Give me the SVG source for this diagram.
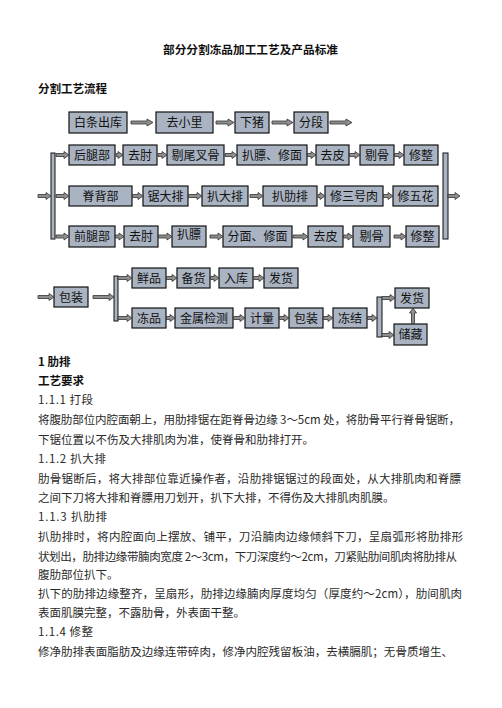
<svg xmlns="http://www.w3.org/2000/svg" width="502" height="708" viewBox="0 0 502 708">
<style>
.bg{fill:#ffffff}
.box rect{fill:#a9b3c1;stroke:#111;stroke-width:1.2}
.box text{font-family:"Noto Sans CJK SC","Noto Sans CJK JP",sans-serif;font-size:12px;fill:#111;text-anchor:middle}
.bar{fill:#a9b3c1;stroke:#111;stroke-width:1}
.arr polygon{fill:#8e8e8e;stroke:#333;stroke-width:0.8;stroke-linejoin:miter}
.h{font-family:"Noto Sans CJK SC","Noto Sans CJK JP",sans-serif;font-weight:bold;font-size:11.5px;fill:#111}
.t{font-family:"Noto Sans CJK SC","Noto Sans CJK JP",sans-serif;font-size:11.5px;fill:#2a2a2a}
</style>
<rect class="bg" x="0" y="0" width="502" height="708"/>

<text class="h" x="250.5" y="54" text-anchor="middle" textLength="175" lengthAdjust="spacingAndGlyphs">部分分割冻品加工工艺及产品标准</text>
<text class="h" x="38" y="93">分割工艺流程</text>

<!-- Row 0 -->
<g id="n-baitiao" class="box"><rect x="69" y="112" width="58" height="21"/><text x="98" y="127">白条出库</text></g>
<g id="n-quxiaoli" class="box"><rect x="156" y="112" width="57" height="21"/><text x="184.5" y="127">去小里</text></g>
<g id="n-xiazhu" class="box"><rect x="235" y="112" width="34" height="21"/><text x="252" y="127">下猪</text></g>
<g id="n-fenduan" class="box"><rect x="294" y="112" width="34" height="21"/><text x="311" y="127">分段</text></g>

<!-- Row 1 -->
<g id="n-houtuibu" class="box"><rect x="69" y="145" width="46" height="20"/><text x="92" y="159.5">后腿部</text></g>
<g id="n-quzhou1" class="box"><rect x="123" y="145" width="34" height="20"/><text x="140" y="159.5">去肘</text></g>
<g id="n-tiweichagu" class="box"><rect x="167" y="145" width="57" height="20"/><text x="195.5" y="159.5">剔尾叉骨</text></g>
<g id="n-babiao1" class="box"><rect x="237" y="145" width="70" height="20"/><text x="272" y="159.5">扒膘、修面</text></g>
<g id="n-qupi1" class="box"><rect x="316" y="145" width="33" height="20"/><text x="332.5" y="159.5">去皮</text></g>
<g id="n-tigu1" class="box"><rect x="360" y="145" width="34" height="20"/><text x="377" y="159.5">剔骨</text></g>
<g id="n-xiuzheng1" class="box"><rect x="404" y="145" width="34" height="20"/><text x="421" y="159.5">修整</text></g>

<!-- Row 2 -->
<g id="n-jibeibu" class="box"><rect x="69" y="186" width="63" height="20"/><text x="100.5" y="200.5">脊背部</text></g>
<g id="n-judapai" class="box"><rect x="143" y="186" width="45" height="20"/><text x="165.5" y="200.5">锯大排</text></g>
<g id="n-badapai" class="box"><rect x="202" y="186" width="46" height="20"/><text x="225" y="200.5">扒大排</text></g>
<g id="n-baleipai" class="box"><rect x="263" y="186" width="54" height="20"/><text x="290" y="200.5">扒肋排</text></g>
<g id="n-xiusanhao" class="box"><rect x="325" y="186" width="58" height="20"/><text x="354" y="200.5">修三号肉</text></g>
<g id="n-xiuwuhua" class="box"><rect x="393" y="186" width="45" height="20"/><text x="415.5" y="200.5">修五花</text></g>

<!-- Row 3 -->
<g id="n-qiantuibu" class="box"><rect x="69" y="226" width="46" height="21"/><text x="92" y="241">前腿部</text></g>
<g id="n-quzhou3" class="box"><rect x="124" y="226" width="34" height="21"/><text x="141" y="241">去肘</text></g>
<g id="n-babiao3" class="box"><rect x="172" y="226" width="34" height="21"/><text x="189" y="239">扒膘</text></g>
<g id="n-fenmian" class="box"><rect x="223" y="226" width="69" height="21"/><text x="257.5" y="241">分面、修面</text></g>
<g id="n-qupi3" class="box"><rect x="308" y="226" width="35" height="21"/><text x="325.5" y="241">去皮</text></g>
<g id="n-tigu3" class="box"><rect x="353" y="226" width="37" height="21"/><text x="371.5" y="241">剔骨</text></g>
<g id="n-xiuzheng3" class="box"><rect x="406" y="226" width="33" height="21"/><text x="422.5" y="241">修整</text></g>

<!-- Bottom section -->
<g id="n-baozhuang0" class="box"><rect x="54" y="287" width="34" height="20"/><text x="71" y="301.5">包装</text></g>
<g id="n-xianpin" class="box"><rect x="132" y="268" width="34" height="20"/><text x="149" y="282.5">鲜品</text></g>
<g id="n-beihuo" class="box"><rect x="177" y="268" width="33" height="20"/><text x="193.5" y="282.5">备货</text></g>
<g id="n-ruku" class="box"><rect x="219" y="268" width="34" height="20"/><text x="236" y="282.5">入库</text></g>
<g id="n-fahuo1" class="box"><rect x="264" y="268" width="34" height="20"/><text x="281" y="282.5">发货</text></g>
<g id="n-dongpin" class="box"><rect x="132" y="308" width="34" height="20"/><text x="149" y="322.5">冻品</text></g>
<g id="n-jinshu" class="box"><rect x="175" y="308" width="58" height="20"/><text x="204" y="322.5">金属检测</text></g>
<g id="n-jiliang" class="box"><rect x="245" y="308" width="34" height="20"/><text x="262" y="322.5">计量</text></g>
<g id="n-baozhuang1" class="box"><rect x="289" y="308" width="34" height="20"/><text x="306" y="322.5">包装</text></g>
<g id="n-dongjie" class="box"><rect x="333" y="308" width="34" height="20"/><text x="350" y="322.5">冻结</text></g>
<g id="n-fahuo2" class="box"><rect x="395" y="288" width="34" height="20"/><text x="412" y="302.5">发货</text></g>
<g id="n-chucang" class="box"><rect x="394" y="324" width="33" height="21"/><text x="410.5" y="339">储藏</text></g>

<!-- Connectors -->
<g id="connectors">
<rect class="bar" x="51" y="153" width="4" height="86"/>
<rect class="bar" x="443" y="153" width="5" height="86"/>
<rect class="bar" x="114" y="276" width="4" height="45"/>
<rect class="bar" x="377" y="297" width="5" height="40"/>
<g class="arr">
<polygon points="131,121 147,121 147,119 153,122.5 147,126 147,124 131,124"/>
<polygon points="216,121 228,121 228,119 234,122.5 228,126 228,124 216,124"/>
<polygon points="272,121 287,121 287,119 293,122.5 287,126 287,124 272,124"/>
<polygon points="330,121 346,121 346,119 352,122.5 346,126 346,124 330,124"/>

<polygon points="38,194.5 46,194.5 46,192.5 51,196 46,199.5 46,197.5 38,197.5"/>
<polygon points="56,153.5 64,153.5 64,151.5 69,155 64,158.5 64,156.5 56,156.5"/>
<polygon points="56,194.5 64,194.5 64,192.5 69,196 64,199.5 64,197.5 56,197.5"/>
<polygon points="56,235 64,235 64,233 69,236.5 64,240 64,238 56,238"/>
<polygon points="448,194.5 455,194.5 455,192.5 460,196 455,199.5 455,197.5 448,197.5"/>

<polygon points="116,153.5 118,153.5 118,151.5 123,155 118,158.5 118,156.5 116,156.5"/>
<polygon points="158,153.5 162,153.5 162,151.5 167,155 162,158.5 162,156.5 158,156.5"/>
<polygon points="225,153.5 232,153.5 232,151.5 237,155 232,158.5 232,156.5 225,156.5"/>
<polygon points="307.5,153.5 311,153.5 311,151.5 316,155 311,158.5 311,156.5 307.5,156.5"/>
<polygon points="349.5,153.5 355,153.5 355,151.5 360,155 355,158.5 355,156.5 349.5,156.5"/>
<polygon points="394.5,153.5 399,153.5 399,151.5 404,155 399,158.5 399,156.5 394.5,156.5"/>

<polygon points="132.5,194.5 138,194.5 138,192.5 143,196 138,199.5 138,197.5 132.5,197.5"/>
<polygon points="188.5,194.5 197,194.5 197,192.5 202,196 197,199.5 197,197.5 188.5,197.5"/>
<polygon points="250,194.5 258,194.5 258,192.5 263,196 258,199.5 258,197.5 250,197.5"/>
<polygon points="318,194.5 320,194.5 320,192.5 325,196 320,199.5 320,197.5 318,197.5"/>
<polygon points="383.5,194.5 388,194.5 388,192.5 393,196 388,199.5 388,197.5 383.5,197.5"/>

<polygon points="115.5,235 119,235 119,233 124,236.5 119,240 119,238 115.5,238"/>
<polygon points="158.5,235 167,235 167,233 172,236.5 167,240 167,238 158.5,238"/>
<polygon points="210,235 218,235 218,233 223,236.5 218,240 218,238 210,238"/>
<polygon points="293,235 303,235 303,233 308,236.5 303,240 303,238 293,238"/>
<polygon points="343.5,235 348,235 348,233 353,236.5 348,240 348,238 343.5,238"/>
<polygon points="394,235 401,235 401,233 406,236.5 401,240 401,238 394,238"/>

<polygon points="38,295.5 49,295.5 49,293.5 54,297 49,300.5 49,298.5 38,298.5"/>
<polygon points="93,295.5 109,295.5 109,293.5 114,297 109,300.5 109,298.5 93,298.5"/>
<polygon points="118,276.5 127,276.5 127,274.5 132,278 127,281.5 127,279.5 118,279.5"/>
<polygon points="118,316.5 127,316.5 127,314.5 132,318 127,321.5 127,319.5 118,319.5"/>

<polygon points="166.5,276.5 172,276.5 172,274.5 177,278 172,281.5 172,279.5 166.5,279.5"/>
<polygon points="210.5,276.5 214,276.5 214,274.5 219,278 214,281.5 214,279.5 210.5,279.5"/>
<polygon points="253.5,276.5 259,276.5 259,274.5 264,278 259,281.5 259,279.5 253.5,279.5"/>

<polygon points="166.5,316.5 170,316.5 170,314.5 175,318 170,321.5 170,319.5 166.5,319.5"/>
<polygon points="233.5,316.5 240,316.5 240,314.5 245,318 240,321.5 240,319.5 233.5,319.5"/>
<polygon points="279.5,316.5 284,316.5 284,314.5 289,318 284,321.5 284,319.5 279.5,319.5"/>
<polygon points="323.5,316.5 328,316.5 328,314.5 333,318 328,321.5 328,319.5 323.5,319.5"/>
<polygon points="367.5,316.5 372,316.5 372,314.5 377,318 372,321.5 372,319.5 367.5,319.5"/>

<polygon points="382,296.5 390,296.5 390,294.5 395,298 390,301.5 390,299.5 382,299.5"/>
<polygon points="382,333.5 389,333.5 389,331.5 394,335 389,338.5 389,336.5 382,336.5"/>
<polygon points="411.5,323.5 411.5,313 409.5,313 413,308 416.5,313 414.5,313 414.5,323.5"/>
</g>
</g>

<!-- Body text -->
<text class="h" x="38" y="366">1 肋排</text>
<text class="h" x="38" y="385">工艺要求</text>
<text class="t" x="38" y="404" textLength="55" lengthAdjust="spacing">1.1.1 打段</text>
<text class="t" x="38" y="423.5" textLength="422" lengthAdjust="spacing">将腹肋部位内腔面朝上，用肋排锯在距脊骨边缘 3～5cm 处，将肋骨平行脊骨锯断，</text>
<text class="t" x="38" y="444">下锯位置以不伤及大排肌肉为准，使脊骨和肋排打开。</text>
<text class="t" x="38" y="463" textLength="68" lengthAdjust="spacing">1.1.2 扒大排</text>
<text class="t" x="38" y="483" textLength="423" lengthAdjust="spacing">肋骨锯断后，将大排部位靠近操作者，沿肋排锯锯过的段面处，从大排肌肉和脊膘</text>
<text class="t" x="38" y="502">之间下刀将大排和脊膘用刀划开，扒下大排，不得伤及大排肌肉肌膜。</text>
<text class="t" x="38" y="521" textLength="69" lengthAdjust="spacing">1.1.3 扒肋排</text>
<text class="t" x="38" y="541" textLength="425" lengthAdjust="spacing">扒肋排时，将内腔面向上摆放、铺平，刀沿腩肉边缘倾斜下刀，呈扇弧形将肋排形</text>
<text class="t" x="38" y="561" textLength="419" lengthAdjust="spacing">状划出，肋排边缘带腩肉宽度 2～3cm，下刀深度约～2cm，刀紧贴肋间肌肉将肋排从</text>
<text class="t" x="38" y="579">腹肋部位扒下。</text>
<text class="t" x="38" y="598" textLength="424" lengthAdjust="spacing">扒下的肋排边缘整齐，呈扇形，肋排边缘腩肉厚度均匀（厚度约～2cm），肋间肌肉</text>
<text class="t" x="38" y="617">表面肌膜完整，不露肋骨，外表面干整。</text>
<text class="t" x="38" y="636" textLength="55" lengthAdjust="spacing">1.1.4 修整</text>
<text class="t" x="38" y="656" textLength="415" lengthAdjust="spacing">修净肋排表面脂肪及边缘连带碎肉，修净内腔残留板油，去横膈肌；无骨质增生、</text>
</svg>
